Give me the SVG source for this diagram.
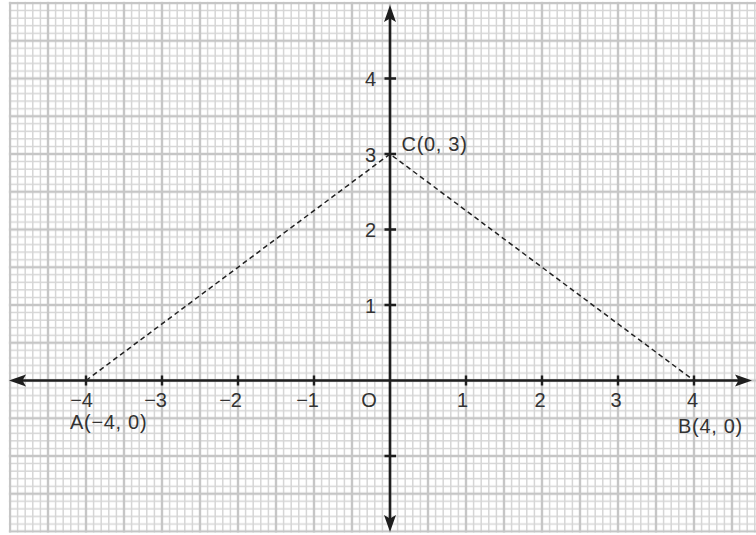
<svg xmlns="http://www.w3.org/2000/svg" xmlns:xlink="http://www.w3.org/1999/xlink" width="756" height="535" viewBox="0 0 756 535">
  <style>
    .minor { stroke: #d6d6d6; stroke-width: 1.5; fill: none; }
    .major { stroke: #c6c6c6; stroke-width: 2.4; fill: none; }
    .axis { stroke: #1e1e1e; stroke-width: 2.6; fill: none; }
    .tick { stroke: #1e1e1e; stroke-width: 2.4; fill: none; }
    .dash { stroke: #222; stroke-width: 1.5; stroke-dasharray: 5 3.5; fill: none; }
    .lbl { font-family: "Liberation Sans", Arial, sans-serif; font-size: 20px; fill: #333; }
    .pt { font-family: "Liberation Sans", Arial, sans-serif; font-size: 20px; fill: #333; letter-spacing: 0.7px; }
    .arrow { fill: #1e1e1e; }
  </style>
  <defs>
    <pattern id="grid" patternUnits="userSpaceOnUse" x="-9" y="-15.875" width="38" height="37.75">
      <path class="minor" d="M3.8 0V37.75M11.4 0V37.75M26.6 0V37.75M34.2 0V37.75M0 3.775H38M0 11.325H38M0 26.425H38M0 33.975H38"/>
      <path class="major" d="M19 0V37.75M0 18.875H38"/>
    </pattern>
    <path id="arrowhead" d="M0 0L-17 -6L-13.5 0L-17 6Z"/>
  </defs>
  <rect width="756" height="535" fill="#ffffff"/>
  <g id="grid-paper">
    <rect x="8.8" y="1.8" width="747.2" height="530.9" fill="url(#grid)"/>
  </g>
  <g id="axes">
    <line class="axis" x1="20" y1="380.5" x2="740" y2="380.5"/>
    <line class="axis" x1="390" y1="18" x2="390" y2="520"/>
    <use xlink:href="#arrowhead" class="arrow" transform="translate(752 380.5)"/>
    <use xlink:href="#arrowhead" class="arrow" transform="translate(9 380.5) rotate(180)"/>
    <use xlink:href="#arrowhead" class="arrow" transform="translate(390 5) rotate(-90)"/>
    <use xlink:href="#arrowhead" class="arrow" transform="translate(390 532) rotate(90)"/>
    <path class="tick" d="M86 375.5V385.5M162 375.5V385.5M238 375.5V385.5M314 375.5V385.5M466 375.5V385.5M542 375.5V385.5M618 375.5V385.5M694 375.5V385.5"/>
    <path class="tick" d="M384.5 78.5H396M384.5 154H396M384.5 229.5H396M384.5 305H396M384.5 456H396"/>
    <g id="x-labels">
      <text class="lbl" x="93" y="407" text-anchor="end">−4</text>
      <text class="lbl" x="167" y="407" text-anchor="end">−3</text>
      <text class="lbl" x="242" y="407" text-anchor="end">−2</text>
      <text class="lbl" x="319" y="407" text-anchor="end">−1</text>
      <text class="lbl" x="369" y="407" text-anchor="middle">O</text>
      <text class="lbl" x="462.5" y="407" text-anchor="middle">1</text>
      <text class="lbl" x="540" y="407" text-anchor="middle">2</text>
      <text class="lbl" x="616" y="407" text-anchor="middle">3</text>
      <text class="lbl" x="692.5" y="407" text-anchor="middle">4</text>
    </g>
    <g id="y-labels">
      <text class="lbl" x="376" y="86" text-anchor="end">4</text>
      <text class="lbl" x="376" y="161.5" text-anchor="end">3</text>
      <text class="lbl" x="376" y="237" text-anchor="end">2</text>
      <text class="lbl" x="376" y="313" text-anchor="end">1</text>
    </g>
  </g>
  <g id="connectors">
    <polyline class="dash" points="86,380.5 390,154 694,380.5"/>
  </g>
  <g id="node-A">
    <text class="pt" x="70" y="428.5">A(−4, 0)</text>
  </g>
  <g id="node-B">
    <text class="pt" x="678" y="432.5">B(4, 0)</text>
  </g>
  <g id="node-C">
    <text class="pt" x="401.5" y="150.5">C(0, 3)</text>
  </g>
</svg>
